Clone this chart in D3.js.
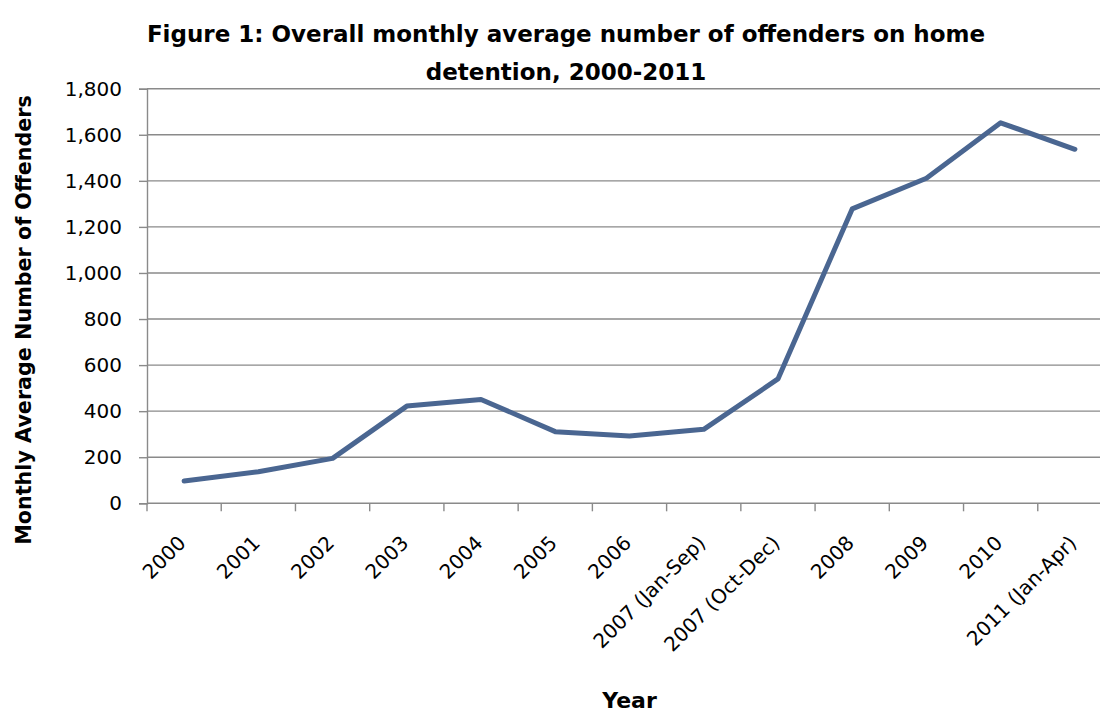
<!DOCTYPE html>
<html>
<head>
<meta charset="utf-8">
<script src="https://cdn.jsdelivr.net/npm/d3@7"></script>
<style>
  html, body { margin: 0; padding: 0; background: #fff; }
  svg { display: block; font-family: "DejaVu Sans", Verdana, sans-serif; }
</style>
</head>
<body>
<svg id="chart" width="1100" height="713"></svg>
<script>
// Monthly average number of offenders on home detention, by period
const categories = [
  "2000", "2001", "2002", "2003", "2004", "2005", "2006",
  "2007 (Jan-Sep)", "2007 (Oct-Dec)", "2008", "2009", "2010", "2011 (Jan-Apr)"
];
const offenders = [97, 137, 195, 422, 451, 311, 292, 321, 540, 1278, 1411, 1652, 1537];
const yTicks = [0, 200, 400, 600, 800, 1000, 1200, 1400, 1600, 1800];

const titleLines = [
  "Figure 1: Overall monthly average number of offenders on home",
  "detention, 2000-2011"
];
const yTitle = "Monthly Average Number of Offenders";
const xTitle = "Year";

const svg = d3.select("#chart");
// The plot area runs a little past the right edge of the canvas
const plot = { left: 147, right: 1112, top: 88.7, bottom: 503.3 };

const x = d3.scaleBand().domain(categories).range([plot.left, plot.right]).paddingInner(0).paddingOuter(0);
const y = d3.scaleLinear().domain([0, 1800]).range([plot.bottom, plot.top]);
const cx = c => x(c) + x.bandwidth() / 2;

const gridColor = "#8a8a8a";

// Horizontal gridlines
svg.append("g")
  .selectAll("line")
  .data(yTicks.filter(d => d > 0))
  .join("line")
  .attr("x1", plot.left).attr("x2", plot.right)
  .attr("y1", d => y(d)).attr("y2", d => y(d))
  .attr("stroke", gridColor).attr("stroke-width", 1.4);

// Y axis
const yAxis = svg.append("g")
  .attr("transform", `translate(${plot.left},0)`)
  .call(d3.axisLeft(y).tickValues(yTicks).tickFormat(d3.format(",")).tickSize(8).tickPadding(17));
yAxis.select(".domain").attr("stroke", gridColor).attr("stroke-width", 1.4);
yAxis.selectAll(".tick line").attr("stroke", gridColor).attr("stroke-width", 1.4);
yAxis.selectAll(".tick text").attr("font-size", 20).attr("fill", "#000")
  .attr("font-family", "DejaVu Sans");

// X axis line and category boundary ticks
const bounds = categories.map(c => x(c)).concat([x(categories[categories.length - 1]) + x.bandwidth()]);
const xAxis = svg.append("g");
xAxis.append("line")
  .attr("x1", plot.left).attr("x2", plot.right)
  .attr("y1", y(0)).attr("y2", y(0))
  .attr("stroke", gridColor).attr("stroke-width", 1.4);
xAxis.selectAll("line.tick")
  .data(bounds)
  .join("line")
  .attr("class", "tick")
  .attr("x1", d => d).attr("x2", d => d)
  .attr("y1", y(0)).attr("y2", y(0) + 8)
  .attr("stroke", gridColor).attr("stroke-width", 1.4);

// Rotated category labels
xAxis.selectAll("text")
  .data(categories)
  .join("text")
  .attr("transform", d => `translate(${cx(d) + 3},${y(0) + 41}) rotate(-45)`)
  .attr("text-anchor", "end")
  .attr("font-size", 20)
  .attr("fill", "#000")
  .text(d => d);

// Data line
const line = d3.line()
  .x((d, i) => cx(categories[i]))
  .y(d => y(d));
svg.append("path")
  .datum(offenders)
  .attr("d", line)
  .attr("fill", "none")
  .attr("stroke", "#4a6691")
  .attr("stroke-width", 5)
  .attr("stroke-linejoin", "round")
  .attr("stroke-linecap", "round");

// Title
const title = svg.append("text")
  .attr("text-anchor", "middle")
  .attr("font-weight", "bold")
  .attr("font-size", 23)
  .attr("fill", "#000");
title.selectAll("tspan")
  .data(titleLines)
  .join("tspan")
  .attr("x", 566)
  .attr("y", (d, i) => 42 + i * 38)
  .text(d => d);

// Axis titles
svg.append("text")
  .attr("transform", "translate(31,320) rotate(-90)")
  .attr("text-anchor", "middle")
  .attr("font-weight", "bold")
  .attr("font-size", 20.7)
  .attr("fill", "#000")
  .text(yTitle);

svg.append("text")
  .attr("x", (plot.left + plot.right) / 2)
  .attr("y", 708)
  .attr("text-anchor", "middle")
  .attr("font-weight", "bold")
  .attr("font-size", 22)
  .attr("fill", "#000")
  .text(xTitle);
</script>
</body>
</html>
